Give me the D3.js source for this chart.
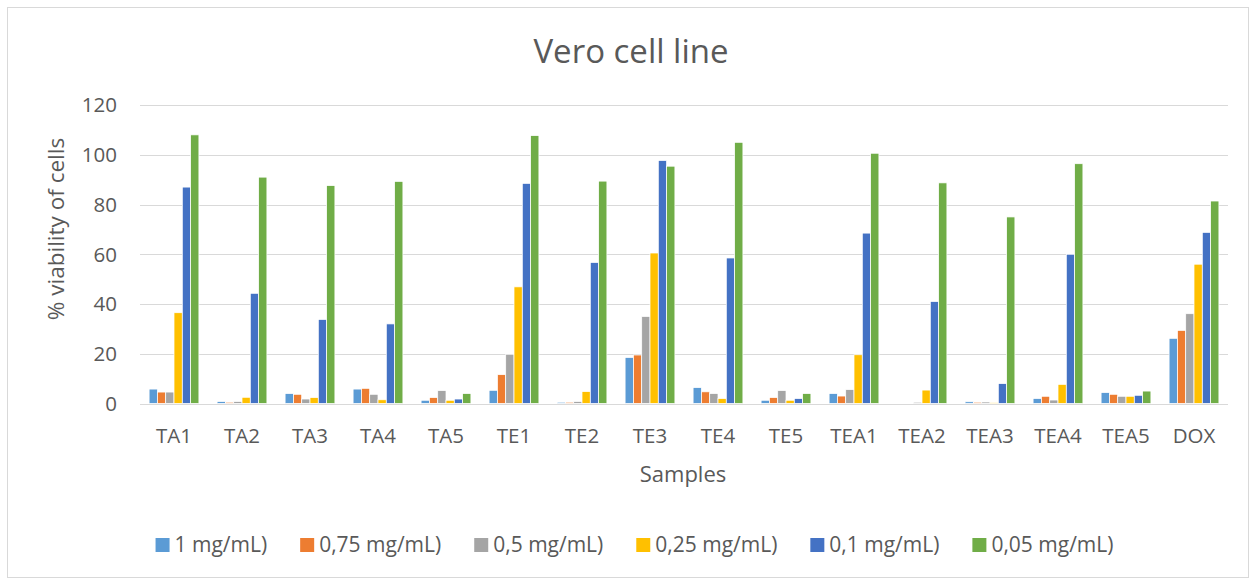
<!DOCTYPE html>
<html><head><meta charset="utf-8">
<script src="https://cdn.jsdelivr.net/npm/d3@7"></script>
<style>
html,body{margin:0;padding:0;background:#fff;}
text{font-family:"Open Sans","Noto Sans",sans-serif;fill:#595959;}
</style></head>
<body><svg id="c" width="1255" height="579"></svg>
<script>
const categories = ["TA1","TA2","TA3","TA4","TA5","TE1","TE2","TE3","TE4","TE5","TEA1","TEA2","TEA3","TEA4","TEA5","DOX"];
const seriesNames = ["1 mg/mL)","0,75 mg/mL)","0,5 mg/mL)","0,25 mg/mL)","0,1 mg/mL)","0,05 mg/mL)"];
const seriesColors = ["#5B9BD5","#ED7D31","#A5A5A5","#FFC000","#4472C4","#70AD47"];
const s1mg   = [5.8,0.8,4.0,5.8,1.3,5.3,0.5,18.5,6.4,1.3,4.0,0.0,0.7,2.0,4.4,26.2];
const s075mg = [4.6,0.5,3.7,6.1,2.4,11.6,0.5,19.5,4.7,2.4,3.0,0.0,0.5,2.9,3.7,29.4];
const s05mg  = [4.6,0.8,1.8,3.7,5.2,19.8,0.8,35.0,4.0,5.2,5.6,0.5,0.6,1.4,2.9,36.1];
const s025mg = [36.5,2.5,2.4,1.5,1.3,46.9,4.8,60.5,2.0,1.3,19.6,5.4,0.3,7.7,2.9,56.0];
const s01mg  = [87.0,44.3,33.8,32.0,1.8,88.5,56.7,97.7,58.5,2.0,68.5,41.0,8.0,60.0,3.3,68.8];
const s005mg = [108.0,91.0,87.6,89.3,4.0,107.7,89.4,95.4,105.0,4.0,100.6,88.7,75.0,96.4,5.0,81.4];
const yTicks = [0,20,40,60,80,100,120];
const seriesValues = [s1mg,s075mg,s05mg,s025mg,s01mg,s005mg];

const svg = d3.select("#c");
svg.append("rect").attr("x",7.5).attr("y",7.5).attr("width",1241).attr("height",570)
  .attr("fill","#fff").attr("stroke","#D9D9D9").attr("stroke-width",1);

const L=140,R=1228,T=105,B=403.5;
const x0 = d3.scaleBand().domain(categories).range([L,R]).padding(0);
const step = x0.bandwidth();
const groupW = step*6/8.19;
const x1 = d3.scaleBand().domain(d3.range(6)).range([(step-groupW)/2,(step+groupW)/2]).padding(0);
const y = d3.scaleLinear().domain([0,120]).range([B,T]);

// gridlines
svg.append("g").selectAll("line").data(yTicks).join("line")
  .attr("x1",L).attr("x2",R).attr("y1",d=>Math.round(y(d))+0.5).attr("y2",d=>Math.round(y(d))+0.5)
  .attr("stroke","#D9D9D9").attr("stroke-width",1);

// y tick labels
svg.append("g").selectAll("text").data(yTicks).join("text")
  .attr("x",117).attr("y",d=>y(d)).attr("dy","0.36em").attr("text-anchor","end")
  .attr("font-size",20.5).text(d=>d);

// bars
const g = svg.append("g");
seriesValues.forEach((vals,si)=>{
  g.append("g").selectAll("rect").data(vals).join("rect")
    .attr("x",(d,i)=>x0(categories[i])+x1(si))
    .attr("width",x1.bandwidth())
    .attr("y",d=>y(d))
    .attr("height",d=>Math.max(0,y(0)-y(d)))
    .attr("fill",seriesColors[si])
    .attr("stroke","#fff").attr("stroke-width",0.75);
});

// baseline redraw
svg.append("line").attr("x1",L).attr("x2",R).attr("y1",Math.round(y(0))+0.5).attr("y2",Math.round(y(0))+0.5)
  .attr("stroke","#D9D9D9").attr("stroke-width",1);

// category labels
svg.append("g").selectAll("text").data(categories).join("text")
  .attr("x",d=>x0(d)+step/2).attr("y",443).attr("text-anchor","middle")
  .attr("font-size",20.5).text(d=>d);

// title
svg.append("text").attr("x",631).attr("y",63).attr("text-anchor","middle")
  .attr("font-size",33).text("Vero cell line");

// axis titles
svg.append("text").attr("x",683).attr("y",482).attr("text-anchor","middle")
  .attr("font-size",22).text("Samples");
svg.append("text").attr("transform","translate(64,229) rotate(-90)").attr("text-anchor","middle")
  .attr("font-size",22.5).text("% viability of cells");

// legend
const leg = svg.append("g");
const items = leg.selectAll("g").data(seriesNames).join("g");
items.append("rect").attr("width",14).attr("height",14).attr("y",-14)
  .attr("fill",(d,i)=>seriesColors[i]);
items.append("text").attr("x",19).attr("font-size",21).text(d=>d);
let cx = 0;
const pos=[];
items.each(function(d,i){
  const w = d3.select(this).select("text").node().getComputedTextLength()+19;
  pos.push(cx); cx += w + 33;
});
const total = cx-33;
const startX = 634.5 - total/2;
items.attr("transform",(d,i)=>`translate(${startX+pos[i]},552)`);
</script></body></html>
